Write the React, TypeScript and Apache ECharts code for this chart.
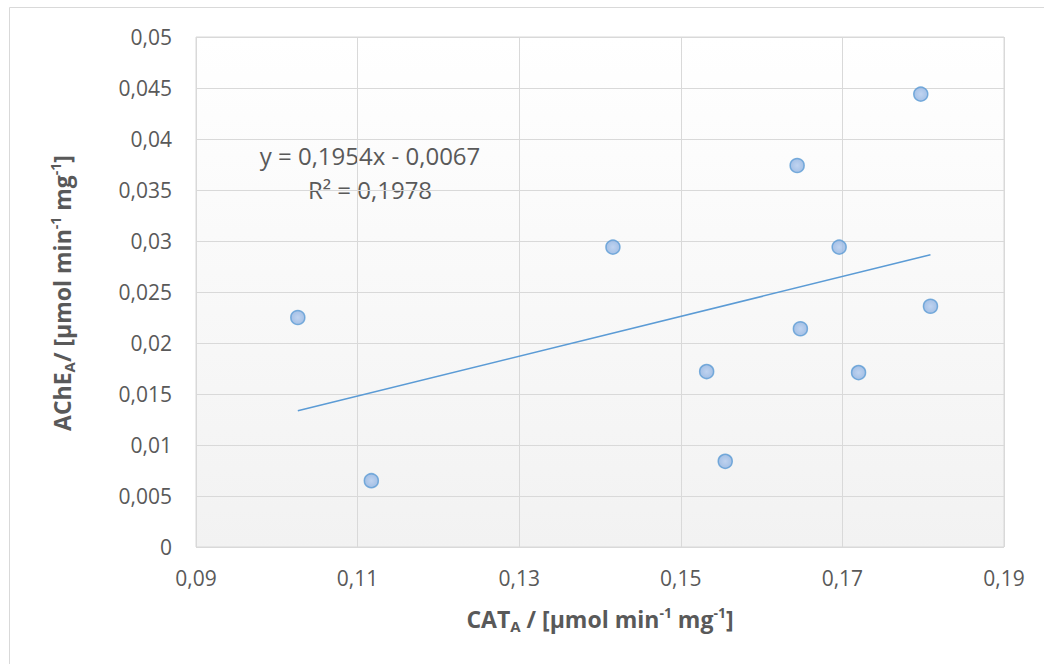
import React, { useEffect, useRef } from "react";
import * as echarts from "echarts";

// CAT activity (x) and AChE activity (y) per sample, µmol min-1 mg-1
const catA = [0.1026, 0.1117, 0.1416, 0.1532, 0.1555, 0.1644, 0.1648, 0.1696, 0.172, 0.1797, 0.1809];
const acheA = [0.0225, 0.0065, 0.0294, 0.0172, 0.0084, 0.0374, 0.0214, 0.0294, 0.0171, 0.0444, 0.0236];

// Linear fit reported on the chart
const slope = 0.1954;
const intercept = -0.0067;
const equationLines = ["y = 0,1954x - 0,0067", "R² = 0,1978"];

const xTitle = "{b|CAT}{sub|A}{b| / [µmol min}{sup|-1}{b| mg}{sup|-1}{b|]}";
const yTitle = "{b|AChE}{sub|A}{b|/ [µmol min}{sup|-1}{b| mg}{sup|-1}{b|]}";

const TEXT = "#595959";
const GRID = "#d9d9d9";
const BLUE = "#5b9bd5";
const FONT = "Open Sans";

const fmt = (v: number) => Number(v.toFixed(4)).toString().replace(".", ",");

const nameRich = {
  b: { fontFamily: FONT, fontSize: 23, fontWeight: "bold", fill: TEXT, color: TEXT, lineHeight: 28 },
  sub: { fontFamily: FONT, fontSize: 15, fontWeight: "bold", fill: TEXT, color: TEXT, lineHeight: 15, verticalAlign: "bottom" },
  sup: { fontFamily: FONT, fontSize: 14, fontWeight: "bold", fill: TEXT, color: TEXT, lineHeight: 14, verticalAlign: "top" },
};

export default function App() {
  const ref = useRef<HTMLDivElement>(null);

  useEffect(() => {
    if (!ref.current) return;
    const chart = echarts.init(ref.current, undefined, { renderer: "svg" });

    const points = catA.map((x, i) => [x, acheA[i]]);
    const xMin = Math.min(...catA);
    const xMax = Math.max(...catA);
    const trend = [
      [xMin, slope * xMin + intercept],
      [xMax, slope * xMax + intercept],
    ];

    chart.setOption({
      animation: false,
      backgroundColor: "#ffffff",
      textStyle: { fontFamily: FONT },
      grid: {
        left: 196,
        top: 37,
        right: 40,
        bottom: 117,
        show: true,
        borderColor: GRID,
        borderWidth: 1,
        backgroundColor: {
          type: "linear",
          x: 0,
          y: 0,
          x2: 0,
          y2: 1,
          colorStops: [
            { offset: 0, color: "#ffffff" },
            { offset: 1, color: "#f2f2f2" },
          ],
        },
      },
      xAxis: {
        type: "value",
        min: 0.09,
        max: 0.19,
        interval: 0.02,
        axisLine: { show: false },
        axisTick: { show: false },
        splitLine: { show: true, lineStyle: { color: GRID, width: 1 } },
        axisLabel: { color: TEXT, fontFamily: FONT, fontSize: 21, margin: 20, formatter: fmt },
      },
      yAxis: {
        type: "value",
        min: 0,
        max: 0.05,
        interval: 0.005,
        axisLine: { show: false },
        axisTick: { show: false },
        splitLine: { show: true, lineStyle: { color: GRID, width: 1 } },
        axisLabel: { color: TEXT, fontFamily: FONT, fontSize: 21, margin: 24, formatter: fmt },
      },
      graphic: [
        {
          type: "rect",
          silent: true,
          z: -10,
          shape: { x: 9.5, y: 7.5, width: 1100, height: 700 },
          style: { fill: "none", stroke: GRID, lineWidth: 1 },
        },
        {
          type: "text",
          x: 600,
          y: 619,
          style: { text: xTitle, rich: nameRich, align: "center", verticalAlign: "middle" },
        },
        {
          type: "text",
          x: 62,
          y: 293,
          rotation: Math.PI / 2,
          style: { text: yTitle, rich: nameRich, align: "center", verticalAlign: "middle" },
        },
        ...equationLines.map((t, i) => ({
          type: "text",
          x: 370,
          y: 155 + i * 34,
          style: {
            text: t,
            fill: TEXT,
            font: `24px "${FONT}"`,
            align: "center",
            verticalAlign: "middle",
          },
        })),
      ],
      series: [
        {
          type: "line",
          data: trend,
          showSymbol: false,
          symbol: "none",
          lineStyle: { color: BLUE, width: 1.5 },
          silent: true,
          z: 2,
        },
        {
          type: "scatter",
          data: points,
          symbol: "circle",
          symbolSize: 14,
          z: 3,
          itemStyle: {
            color: {
              type: "radial",
              x: 0.5,
              y: 0.5,
              r: 0.5,
              colorStops: [
                { offset: 0, color: "#b1caee" },
                { offset: 1, color: "#8fb2e1" },
              ],
            },
            borderColor: BLUE,
            borderWidth: 1.5,
          },
        },
      ],
    });

    return () => chart.dispose();
  }, []);

  return (
    <div
      ref={ref}
      style={{ position: "fixed", left: 0, top: 0, width: 1044, height: 664, background: "#fff" }}
    />
  );
}
